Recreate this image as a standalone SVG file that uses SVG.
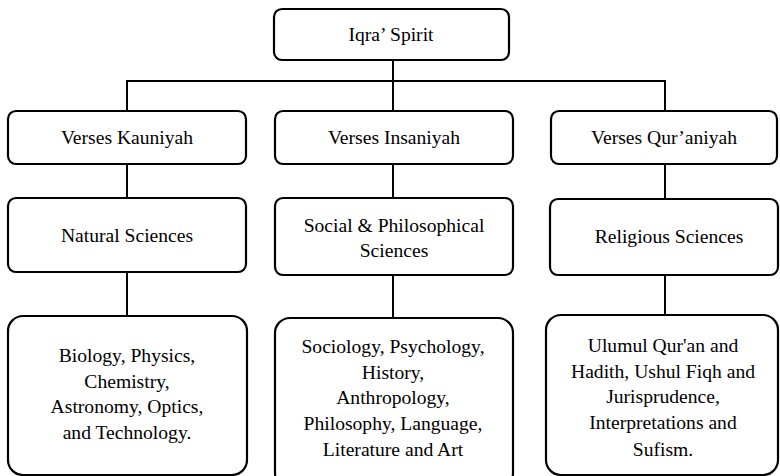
<svg xmlns="http://www.w3.org/2000/svg" width="780" height="476" viewBox="0 0 780 476">
<style>
  .box { fill: #ffffff; stroke: #000000; stroke-width: 2.2; }
  .conn { fill: none; stroke: #000000; stroke-width: 2; }
  text { font-family: "Liberation Serif", "Times New Roman", serif; font-size: 19.6px; fill: #000000; text-anchor: middle; }
</style>
<rect width="780" height="476" fill="#ffffff"/>
<g id="connectors">
  <path class="conn" d="M393 60 V81 M127 111 V81 H665 V111 M393 81 V111"/>
  <path class="conn" d="M127 164 V198 M127 272 V316"/>
  <path class="conn" d="M393 164 V198 M393 275 V318"/>
  <path class="conn" d="M665 164 V199 M665 275 V315"/>
</g>
<g id="iqra-spirit">
  <rect class="box" x="274" y="9" width="235" height="51" rx="8"/>
  <text x="391" y="41">Iqra’ Spirit</text>
</g>
<g id="verses-kauniyah">
  <rect class="box" x="8" y="111" width="238" height="53" rx="8"/>
  <text x="127" y="144">Verses Kauniyah</text>
</g>
<g id="verses-insaniyah">
  <rect class="box" x="275" y="111" width="238" height="53" rx="8"/>
  <text x="394" y="144">Verses Insaniyah</text>
</g>
<g id="verses-quraniyah">
  <rect class="box" x="551" y="111" width="226" height="53" rx="8"/>
  <text x="664" y="144">Verses Qur’aniyah</text>
</g>
<g id="natural-sciences">
  <rect class="box" x="8" y="198" width="238" height="74" rx="8"/>
  <text x="127" y="242">Natural Sciences</text>
</g>
<g id="social-sciences">
  <rect class="box" x="275" y="198" width="238" height="77" rx="8"/>
  <text x="394" y="232">Social &amp; Philosophical</text>
  <text x="394" y="257">Sciences</text>
</g>
<g id="religious-sciences">
  <rect class="box" x="550" y="199" width="228" height="76" rx="8"/>
  <text x="669" y="243">Religious Sciences</text>
</g>
<g id="natural-list">
  <rect class="box" x="8" y="316" width="239" height="159" rx="15"/>
  <text x="127" y="362">Biology, Physics,</text>
  <text x="127" y="387.5">Chemistry,</text>
  <text x="127" y="413">Astronomy, Optics,</text>
  <text x="127" y="438.5">and Technology.</text>
</g>
<g id="social-list">
  <rect class="box" x="275" y="318" width="238" height="170" rx="15"/>
  <text x="393" y="353">Sociology, Psychology,</text>
  <text x="393" y="378.5">History,</text>
  <text x="393" y="404">Anthropology,</text>
  <text x="393" y="429.5">Philosophy, Language,</text>
  <text x="393" y="456">Literature and Art</text>
</g>
<g id="religious-list">
  <rect class="box" x="546" y="315" width="232" height="160" rx="15"/>
  <text x="663" y="352">Ulumul Qur'an and</text>
  <text x="663" y="377.5">Hadith, Ushul Fiqh and</text>
  <text x="663" y="403">Jurisprudence,</text>
  <text x="663" y="429">Interpretations and</text>
  <text x="663" y="456">Sufism.</text>
</g>
</svg>
